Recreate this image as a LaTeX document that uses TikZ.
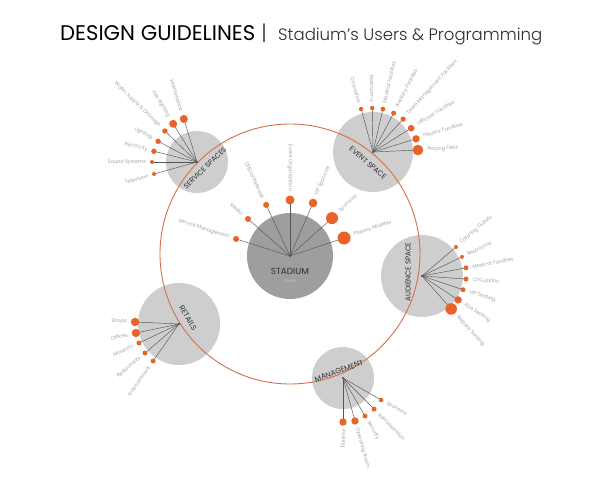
\documentclass[tikz,border=0pt]{standalone}
\usepackage{fontspec}
\setmainfont{Poppins}
\newfontfamily\lightf{Poppins Light}
\usetikzlibrary{calc}
\definecolor{discl}{RGB}{206,206,206}
\definecolor{discd}{RGB}{158,158,158}
\definecolor{dotor}{RGB}{232,98,42}
\definecolor{ringor}{RGB}{214,112,72}
\definecolor{spokec}{RGB}{85,85,85}
\definecolor{lblc}{RGB}{140,140,140}
\definecolor{ttlc}{RGB}{45,45,45}
\tikzset{
  spoke/.style={draw=spokec, line width=0.45pt},
  dotfill/.style={fill=dotor},
  lbl/.style={font=\lightf\fontsize{5}{5}\selectfont, text=lblc, inner sep=0pt},
  disc/.style={fill=discl},
  ttl/.style={font=\fontsize{6}{6}\selectfont, text=ttlc, inner sep=0pt},
  hubdot/.style={fill=spokec},
}
\newcommand\myleaves[2]{%
  \foreach \ang/\dis/\rad/\txt [count=\i] in {#2}{%
    \coordinate (#1-\i) at ($(#1)+(\ang:\dis)$);
    \draw[spoke] (#1) -- (#1-\i);
    \fill[dotfill] (#1-\i) circle (\rad);
    \pgfmathsetmacro\ld{\dis+\rad+4}
    \pgfmathtruncatemacro\inw{(\ang>=90 && \ang<270) ? 1 : 0}
    \ifnum\inw=1
      \node[lbl, anchor=east, rotate=\ang-180] (#1-l\i) at ($(#1)+(\ang:\ld)$) {\txt};
    \else
      \node[lbl, anchor=west, rotate=\ang] (#1-l\i) at ($(#1)+(\ang:\ld)$) {\txt};
    \fi
  }%
  \fill[hubdot] (#1) circle (1.1);
}
\begin{document}
\begin{tikzpicture}[x=1pt,y=1pt]
\fill[white] (0,0) rectangle (600,500);
\useasboundingbox (0,0) rectangle (600,500);
% title
\node[anchor=base west, inner sep=0pt] (t1) at (60,459) {\resizebox{195pt}{!}{DESIGN GUIDELINES}};
\node[anchor=base, inner sep=0pt, text=ttlc] (t2) at (264,459) {\lightf\fontsize{21}{21}\selectfont |};
\node[anchor=base west, inner sep=0pt, text=ttlc] (t3) at (278,459) {\resizebox{264pt}{!}{\lightf Stadium’s Users \& Programming}};
% hubs
\coordinate (ring) at (290,246);
\coordinate (st) at (290,244);
\coordinate (sv) at (197,338);
\coordinate (ev) at (373,348);
\coordinate (au) at (422,224);
\coordinate (rt) at (179,176);
\coordinate (mg) at (343,122);
% discs
\fill[disc] (sv) circle (31);
\fill[disc] (ev) circle (40);
\fill[disc] (au) circle (41);
\fill[disc] (rt) circle (41);
\fill[disc] (mg) circle (31);
\fill[fill=discd] (st) circle (43);
\draw[ringor, line width=0.9pt] (ring) circle (130);
% leaves
\myleaves{sv}{107/45/4/Maintenance, 122/45/4/Fire-fighting, 136/44.6/2.7/Water Supply \& Drainage, 152/44/2.7/Lighting, 166/44.4/2.7/Electricity, 180/45/2/Sound Systems, 195.6/44.6/2/Television}
\myleaves{ev}{2.5/45/5.3/Playing Field, 17/45/3.7/Players’ Facilities, 32/45/3.3/Officials’ Facilities, 47.5/44.6/2.6/Team Management Facilities, 62/44/2.5/Auxiliary Facilities, 77/44/2.4/Medical Facilities, 91/44/2.2/Restrooms, 105.5/44.6/2.2/Circulation}
\myleaves{st}{18.4/57/6.5/Players Athletes, 42/56.6/6/Sponsors, 66.5/57.8/4.3/VIP Sponsors, 90/56/4.5/Event Organization, 115/56.4/3/Official Referees, 138.6/56/3/Media, 162.5/56.6/3/Service Management}
\myleaves{au}{40.5/44.7/2/Catering Outlets, 25.5/44.3/2/Restrooms, 10.5/44.7/2.5/Medical Facilities, -4/44.1/2.5/Circulation, -18.5/43.3/2.5/VIP Seating, -33.5/43.3/3.7/ADA Seating, -48.5/44/5.8/Regular Seating}
\myleaves{rt}{177.4/44/4.2/Shops, 191.8/44/4.2/Offices, 205.4/44.3/2.5/Museum, 220.5/44.7/2.5/Restaurants, 235/45.2/2.5/Entertainment}
\myleaves{mg}{270/44/3.7/Parking, 285.6/44.6/3.7/Operating Room, 300/44/2.5/Security, 315/44/2.5/Administration, 330/44/2.3/Sponsors}
% circle titles
\node[ttl, rotate=44] (svt) at (205,332) {\resizebox{56pt}{!}{SERVICE SPACES}};
\node[ttl, rotate=-41] (evt) at (368,337) {\resizebox{46pt}{!}{EVENT SPACE}};
\node[ttl, rotate=90] (aut) at (408,228) {\resizebox{59pt}{!}{AUDIENCE SPACE}};
\node[ttl, rotate=-59] (rtt) at (188,182) {\resizebox{27pt}{!}{RETAILS}};
\node[ttl, rotate=20] (mgt) at (339,129) {\resizebox{51pt}{!}{MANAGEMENT}};
\node[ttl] (stt) at (290,229) {\resizebox{38pt}{!}{STADIUM}};
\node[inner sep=0pt, text=discl, font=\lightf\fontsize{4.5}{4.5}\selectfont] (stu) at (290,219) {Users};
\end{tikzpicture}
\end{document}
